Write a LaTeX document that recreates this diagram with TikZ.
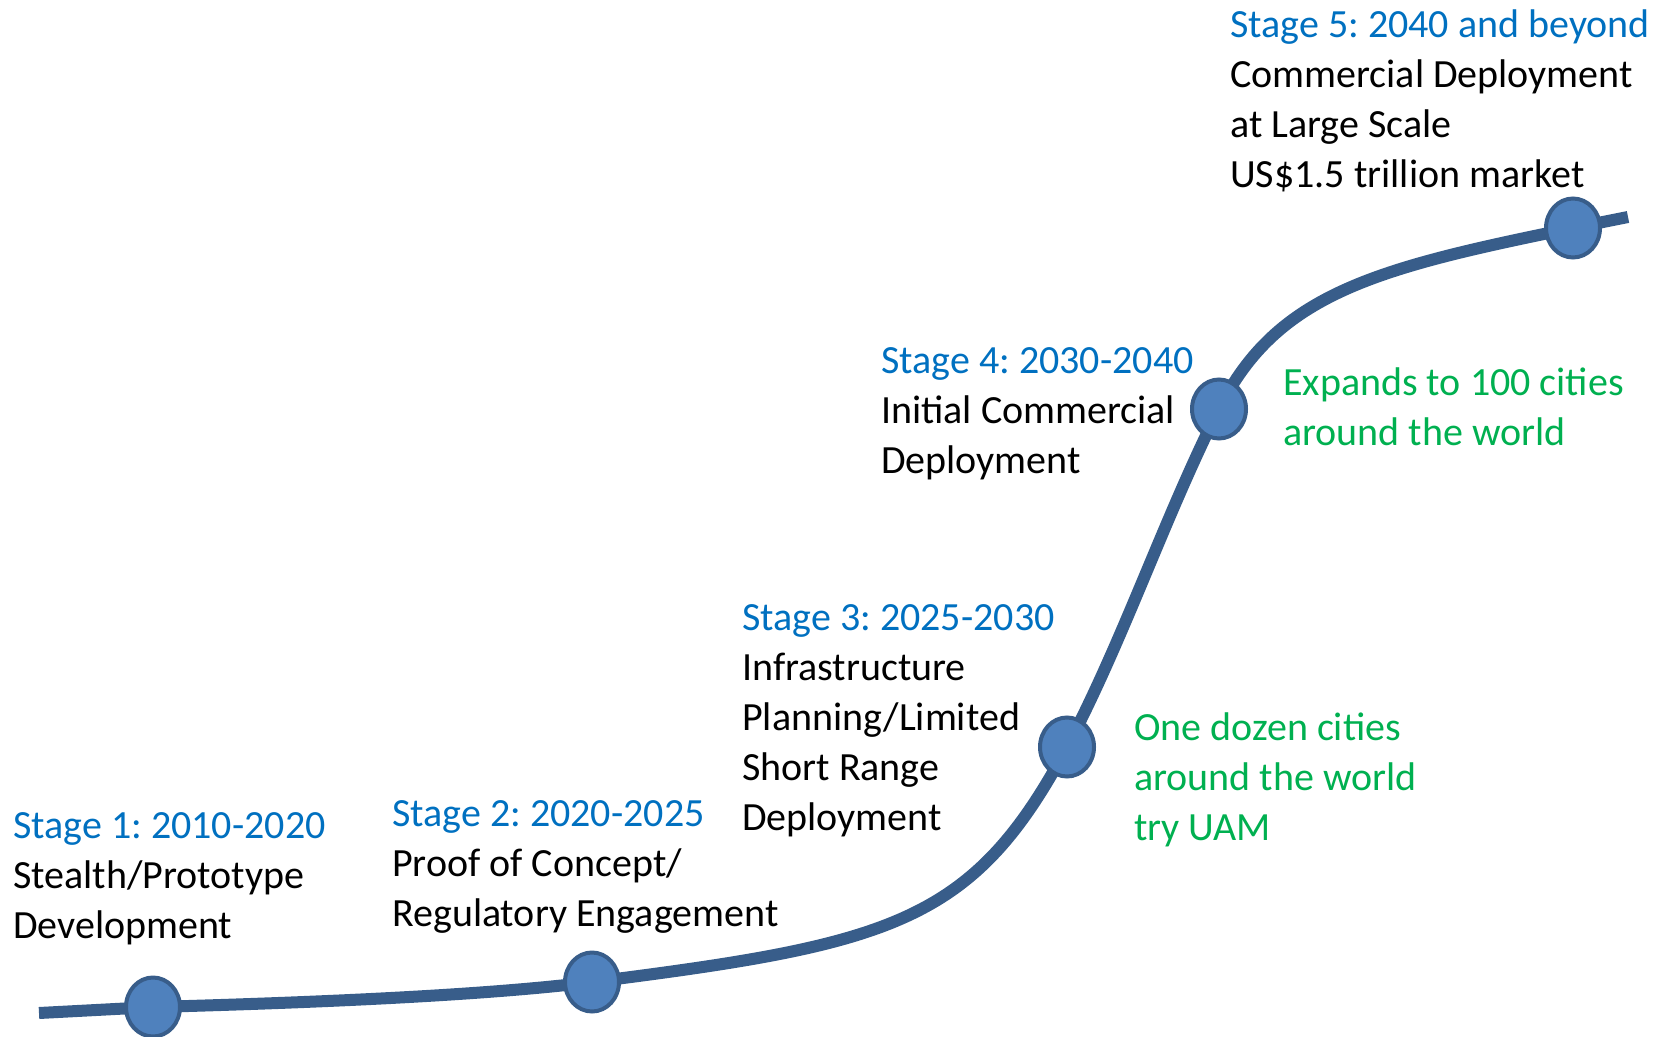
\documentclass[tikz,border=0pt]{standalone}
\usepackage{fontspec}
\setmainfont{Carlito}
\usetikzlibrary{shapes.geometric}
\definecolor{curveblue}{HTML}{385D8A}
\definecolor{dotfill}{HTML}{4F81BD}
\definecolor{stageblue}{HTML}{0070C0}
\definecolor{notegreen}{HTML}{00B050}
\begin{document}
\frenchspacing
\begin{tikzpicture}[x=1pt,y=-1pt,
  txt/.style={anchor=base west,inner sep=0pt,align=left,
    font=\fontsize{40}{50}\selectfont},
  note/.style={txt,text=notegreen},
  milestone/.style={ellipse,minimum width=54pt,minimum height=59pt,inner sep=0pt,
    fill=dotfill,draw=curveblue,line width=4pt},
  growth/.style={draw=curveblue,line width=12pt}]
\useasboundingbox (0,0) rectangle (1662,1036);

% points along the adoption curve
\coordinate (start) at (39,1013);
\coordinate (p1) at (153,1007);
\coordinate (p2) at (592,982);
\coordinate (p3) at (1067,747);
\coordinate (p4) at (1219,409);
\coordinate (p5) at (1573,228);
\coordinate (finish) at (1628,217);

% S-shaped growth curve, one Bezier piece between neighbouring milestones
\draw[growth] (start) -- (p1)
  .. controls (300,1003) and (480,996) .. (p2)
  .. controls (892,944) and (973,923) .. (p3)
  .. controls (1123,641) and (1165,516) .. (p4)
  .. controls (1277,293) and (1377,268) .. (p5)
  -- (finish);

% milestones
\node[milestone] (m1) at (p1) {};
\node[milestone] (m2) at (p2) {};
\node[milestone] (m3) at (p3) {};
\node[milestone] (m4) at (p4) {};
\node[milestone] (m5) at (p5) {};

% stage descriptions (anchored at the baseline of their last line)
\node[txt] (s1) at (13,938) {\textcolor{stageblue}{Stage 1: 2010-2020}\\Stealth/Prototype\\Development};
\node[txt] (s2) at (392,926) {\textcolor{stageblue}{Stage 2: 2020-2025}\\Proof of Concept/\\Regulatory Engagement};
\node[txt] (s3) at (742,830) {\textcolor{stageblue}{Stage 3: 2025-2030}\\Infrastructure\\Planning/Limited\\Short Range\\Deployment};
\node[txt] (s4) at (881,473) {\textcolor{stageblue}{Stage 4: 2030-2040}\\Initial Commercial\\Deployment};
\node[txt] (s5) at (1230,187) {\textcolor{stageblue}{Stage 5: 2040 and beyond}\\Commercial Deployment\\at Large Scale\\US\$1.5 trillion market};

% market notes
\node[note] (n3) at (1134,840) {One dozen cities\\around the world\\try UAM};
\node[note] (n4) at (1283,445) {Expands to 100 cities\\around the world};
\end{tikzpicture}
\end{document}
